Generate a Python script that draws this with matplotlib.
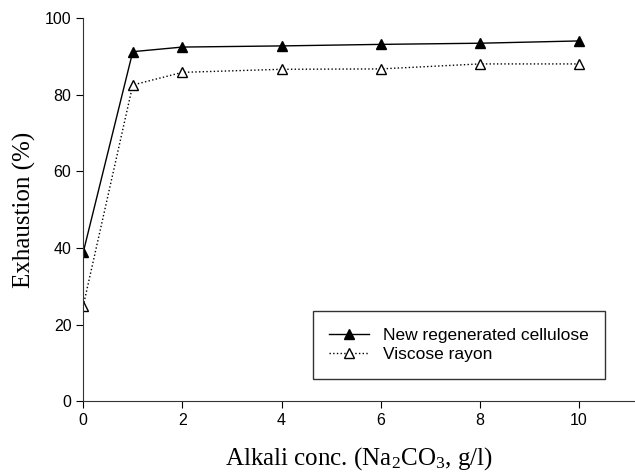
import matplotlib
matplotlib.use("Agg")
import matplotlib.pyplot as plt

plt.rcParams['font.family'] = ['Liberation Sans', 'DejaVu Sans']
plt.rcParams['mathtext.fontset'] = 'custom'
plt.rcParams['mathtext.rm'] = 'Liberation Serif'
plt.rcParams['mathtext.it'] = 'Liberation Serif:italic'

# data
conc = [0, 1, 2, 4, 6, 8, 10]
new_cell = [38.8, 91.2, 92.4, 92.7, 93.1, 93.4, 94.0]
viscose = [24.8, 82.5, 85.8, 86.6, 86.7, 88.0, 88.0]

fig = plt.figure(figsize=(6.35, 4.72), dpi=100)
ax = fig.add_axes([0.131, 0.150, 0.869, 0.812])

ax.plot(conc, new_cell, '-', color='black', lw=1.0, marker='^', ms=7,
        mfc='black', mec='black', label='New regenerated cellulose')
ax.plot(conc, viscose, ':', color='black', lw=1.0, marker='^', ms=7,
        mfc='white', mec='black', label='Viscose rayon')

ax.set_xlim(0, 11.13)
ax.set_ylim(0, 100)
ax.set_xticks([0, 2, 4, 6, 8, 10])
ax.set_yticks([0, 20, 40, 60, 80, 100])
ax.spines['top'].set_visible(False)
ax.spines['right'].set_visible(False)
ax.spines['left'].set_color('#333333')
ax.spines['bottom'].set_color('#333333')
ax.tick_params(direction='out', length=5, labelsize=11.5, colors='black')

ax.set_xlabel('Alkali conc. (Na$_2$CO$_3$, g/l)', family='Liberation Serif',
              fontsize=18, labelpad=12)
ax.set_ylabel('Exhaustion (%)', family='Liberation Serif', fontsize=18,
              labelpad=6)

leg = ax.legend(loc='lower right', bbox_to_anchor=(0.962, 0.036),
                fontsize=12.5, frameon=True, fancybox=False,
                edgecolor='black', handlelength=2.3, borderpad=0.95,
                labelspacing=0.25)
leg.get_frame().set_linewidth(1.0)

fig.savefig('out.png', dpi=100)
